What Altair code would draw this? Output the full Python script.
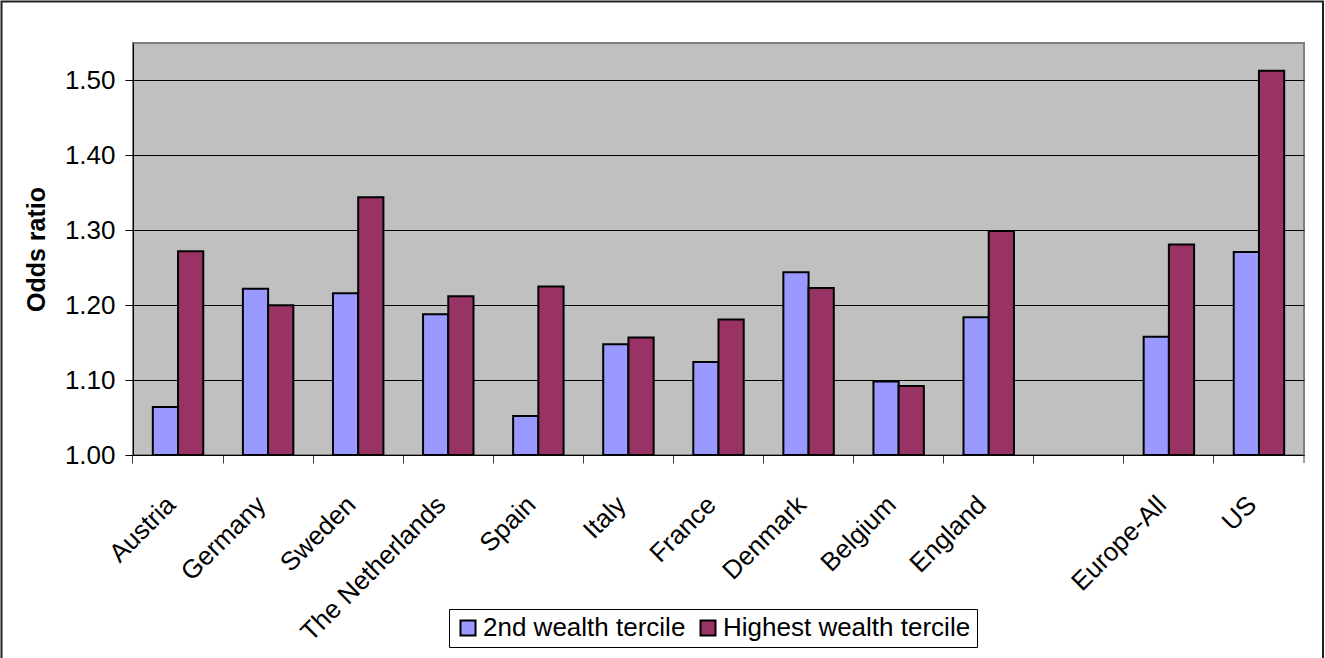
import altair as alt
import pandas as pd

# Odds ratios by country for the two upper wealth terciles
countries = ["Austria", "Germany", "Sweden", "The Netherlands", "Spain", "Italy",
             "France", "Denmark", "Belgium", "England", " ", "Europe-All", "US"]
second_tercile = [1.064, 1.222, 1.216, 1.188, 1.052, 1.148, 1.124, 1.244, 1.098,
                  1.184, None, 1.158, 1.271]
highest_tercile = [1.272, 1.200, 1.344, 1.212, 1.225, 1.157, 1.181, 1.223, 1.092,
                   1.299, None, 1.281, 1.513]
series_names = ["2nd wealth tercile", "Highest wealth tercile"]
series_colors = ["#9999FF", "#993366"]
y_ticks = [1.0, 1.1, 1.2, 1.3, 1.4, 1.5]

rows = []
for c, a, b in zip(countries, second_tercile, highest_tercile):
    if a is not None:
        rows.append({"country": c, "series": series_names[0], "odds": a})
    if b is not None:
        rows.append({"country": c, "series": series_names[1], "odds": b})
df = pd.DataFrame(rows)

W, H = 1171, 412
FONT = "Liberation Sans"
PAD_IN, PAD_OUT = 0.44, 0.22
# place x ticks on the boundaries between categories rather than on the bar groups
tick_band_pos = -PAD_OUT / (1 - PAD_IN)

bars = alt.Chart(df).mark_bar(stroke="black", strokeWidth=2).encode(
    x=alt.X(
        "country:N",
        sort=countries,
        scale=alt.Scale(domain=countries, paddingInner=PAD_IN, paddingOuter=PAD_OUT),
        axis=alt.Axis(
            title=None,
            bandPosition=tick_band_pos,
            labelAngle=-45,
            labelAlign="right",
            labelBaseline="alphabetic",
            labelOffset=-1,
            labelPadding=43,
            labelFont=FONT,
            labelFontSize=26,
            labelColor="black",
            labelLimit=400,
            labelOverlap=False,
            labelFlush=False,
            tickSize=8,
            tickColor="#404040",
            domainColor="black",
            grid=False,
        ),
    ),
    xOffset=alt.XOffset("series:N", sort=series_names,
                        scale=alt.Scale(domain=series_names)),
    y=alt.Y(
        "odds:Q",
        scale=alt.Scale(domain=[1.0, 1.55], nice=False, zero=False),
        axis=alt.Axis(
            title="Odds ratio",
            values=y_ticks,
            format=".2f",
            labelFont=FONT,
            labelFontSize=26,
            labelColor="black",
            labelPadding=10,
            tickSize=8,
            tickColor="black",
            domainColor="black",
            grid=True,
            gridColor="black",
            gridWidth=1,
            titleFont=FONT,
            titleFontSize=25,
            titleFontWeight="bold",
            titleColor="black",
            titleAngle=-90,
            titleAlign="center",
            titleBaseline="middle",
            titleX=-97,
            titleY=H / 2,
        ),
    ),
    y2=alt.datum(1.0),
    color=alt.Color(
        "series:N",
        sort=series_names,
        scale=alt.Scale(domain=series_names, range=series_colors),
        legend=alt.Legend(
            title=None,
            orient="none",
            legendX=316,
            legendY=566,
            direction="horizontal",
            columns=2,
            columnPadding=9,
            symbolType="square",
            symbolSize=225,
            symbolStrokeColor="black",
            symbolStrokeWidth=2,
            labelFont=FONT,
            labelFontSize=26,
            labelColor="black",
            labelOffset=2,
            labelLimit=500,
            strokeColor="black",
            fillColor="white",
            padding=6,
        ),
    ),
)

frame_df = pd.DataFrame({"k": [0]})

# last category-boundary tick at the right end of the x axis
end_tick = alt.Chart(frame_df).mark_rule(color="#404040", strokeWidth=1).encode(
    x=alt.value(W), y=alt.value(H), y2=alt.value(H + 8)
)

# thin border round the whole figure
outer_frame = alt.Chart(frame_df).mark_rect(
    fill=None, stroke="#202020", strokeWidth=2
).encode(
    x=alt.value(-131.5), x2=alt.value(1323 - 133), y=alt.value(-41.5), y2=alt.value(658 - 43 + 5)
)

chart = alt.layer(bars, end_tick, outer_frame).properties(
    width=W,
    height=H,
    autosize=alt.AutoSizeParams(type="none"),
    padding={"left": 133, "top": 43, "right": 21, "bottom": 203},
    background="white",
).configure_view(
    fill="#C0C0C0", stroke="#808080", strokeWidth=2
)

chart.save("out.html", embed_options={"renderer": "svg", "actions": False})
